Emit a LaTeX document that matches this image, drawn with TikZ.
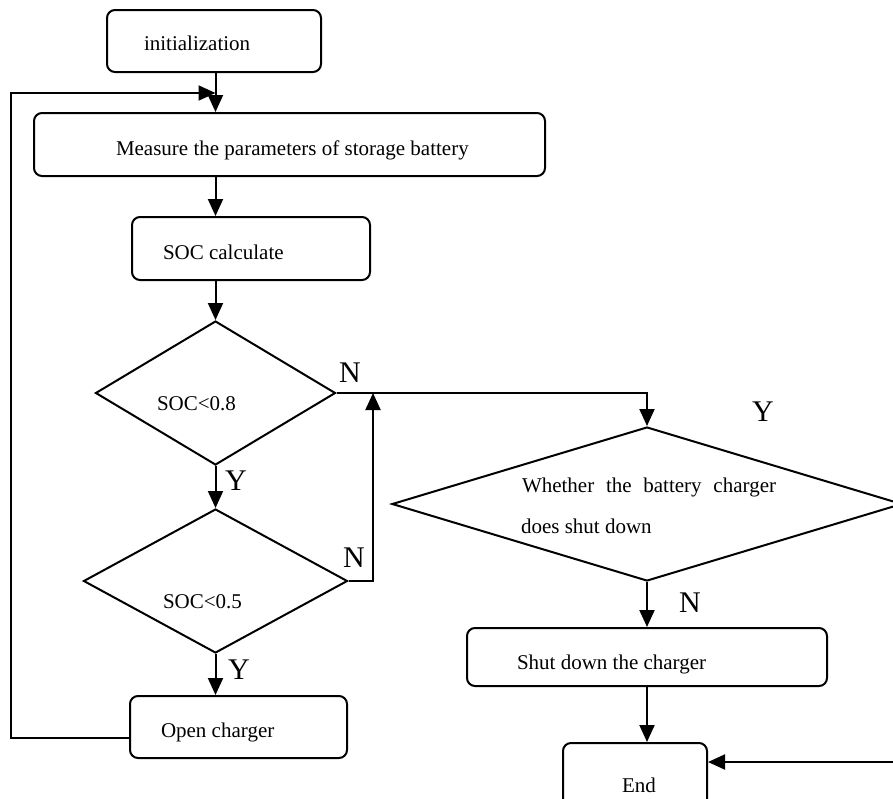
\documentclass[tikz,border=0pt]{standalone}
\usepackage{fontspec}
\setmainfont{Liberation Serif}
\usetikzlibrary{shapes.geometric,arrows.meta}
\begin{document}
\begin{tikzpicture}[x=1pt,y=-1pt,
  line width=2pt,
  box/.style={draw,rectangle,rounded corners=8pt,inner sep=0pt},
  dia/.style={draw,diamond,inner sep=0pt},
  txt/.style={anchor=base west,inner sep=0pt,font=\fontsize{21}{25}\selectfont},
  lab/.style={anchor=base west,inner sep=0pt,font=\fontsize{30}{34}\selectfont},
  arr/.style={-{Triangle[length=17pt,width=15pt]}}]
\useasboundingbox (0,0) rectangle (893,798);
\clip (0,0) rectangle (893,798);
% boxes
\node[box,minimum width=214pt,minimum height=62pt] (init) at (214,41) {};
\node[box,minimum width=511pt,minimum height=63pt] (meas) at (289.5,144.5) {};
\node[box,minimum width=238pt,minimum height=63pt] (soc) at (251,248.5) {};
\node[box,minimum width=217pt,minimum height=62pt] (open) at (238.5,727) {};
\node[box,minimum width=360pt,minimum height=58pt] (shut) at (647,657) {};
\node[box,minimum width=144pt,minimum height=78pt] (endn) at (635,782) {};
% diamonds
\node[dia,minimum width=240pt,minimum height=144pt] (d1) at (215.5,393) {};
\node[dia,minimum width=264pt,minimum height=144pt] (d2) at (215.5,581) {};
\node[dia,minimum width=510pt,minimum height=154pt] (d3) at (647,504) {};
% texts
\node[txt] (tinit) at (143,50) {initialization};
\node[txt] (tmeas) at (115,155) {Measure the parameters of storage battery};
\node[txt] (tsoc) at (162,259) {SOC calculate};
\node[txt] (td1) at (156,410) {SOC<0.8};
\node[txt] (td2) at (162,608) {SOC<0.5};
\node[txt] (topen) at (160,737) {Open charger};
\node[txt] (td3a) at (521,492) {\makebox[254pt][s]{Whether the battery charger}};
\node[txt] (td3b) at (520,533) {does shut down};
\node[txt] (tshut) at (516,669) {Shut down the charger};
\node[txt] (tend) at (621,792) {End};
% labels
\node[lab] (n1) at (338,382) {N};
\node[lab] (y1) at (224,490) {Y};
\node[lab] (n2) at (342,567) {N};
\node[lab] (y2) at (227,679) {Y};
\node[lab] (y3) at (751,421) {Y};
\node[lab] (n3) at (678,612) {N};
% coordinates
\coordinate (jn) at (373,393);
\coordinate (lc) at (11,93);
\coordinate (lb) at (11,738);
\coordinate (rt) at (900,762);
% connectors
\draw[arr] (d1.north |- init.south) -- (d1.north |- meas.north);
\draw[arr] (d1.north |- meas.south) -- (d1.north |- soc.north);
\draw[arr] (d1.north |- soc.south) -- (d1.north);
\draw[arr] (d1.south) -- (d2.north);
\draw[arr] (d2.south) -- (d2.south |- open.north);
\draw[arr] (d2.east) -| (jn);
\draw[arr] (d1.east) -- (d3.north |- d1.east) -- (d3.north);
\draw[arr] (d3.south) -- (d3.south |- shut.north);
\draw[arr] (shut.south) -- (shut.south |- endn.north);
\draw[arr] (rt) -- (rt -| endn.east);
\draw[arr] (open.west |- lb) -- (lb) -- (lc) -- (lc -| d1.north);
\end{tikzpicture}
\end{document}
